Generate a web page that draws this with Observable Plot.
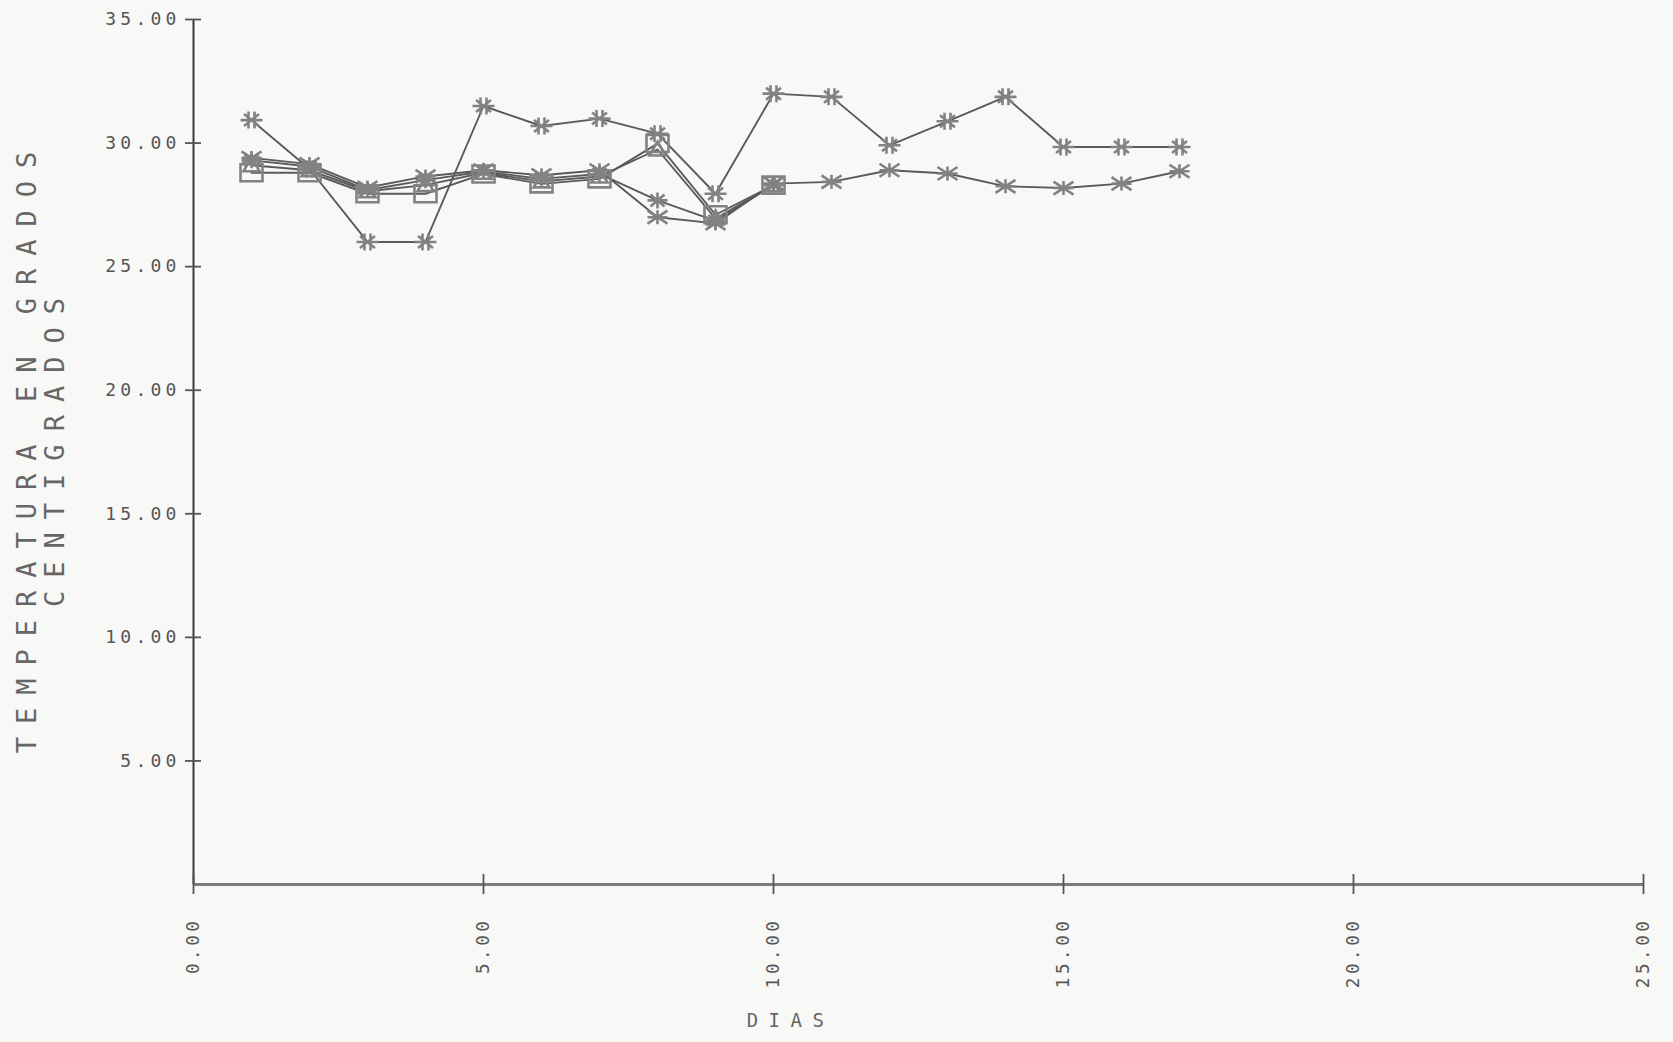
<!DOCTYPE html>
<html>
<head>
<meta charset="utf-8">
<script src="https://cdn.jsdelivr.net/npm/d3@7"></script>
<script src="https://cdn.jsdelivr.net/npm/@observablehq/plot@0.6"></script>
<style>
  html, body { margin: 0; padding: 0; background: #f8f8f6; }
  #chart svg { display: block; }
</style>
</head>
<body>
<div id="chart"></div>
<script>
// ---- data ----
const days17 = [1, 2, 3, 4, 5, 6, 7, 8, 9, 10, 11, 12, 13, 14, 15, 16, 17];
const days10 = [1, 2, 3, 4, 5, 6, 7, 8, 9, 10];

const serieAlmohadilla = [30.93, 28.95, 26.0, 26.0, 31.5, 30.69, 30.99, 30.38, 27.95, 32.0, 31.87, 29.91, 30.88, 31.87, 29.84, 29.84, 29.84];
const serieAspa        = [29.4, 29.15, 28.2, 28.65, 28.9, 28.7, 28.9, 27.0, 26.75, 28.36, 28.43, 28.9, 28.77, 28.25, 28.18, 28.36, 28.86];
const serieAsterisco   = [29.3, 29.05, 28.1, 28.5, 28.85, 28.55, 28.75, 27.68, 26.85, 28.3];
const serieTriangulo   = [29.1, 28.9, 28.05, 28.3, 28.8, 28.45, 28.65, 29.74, 26.95, 28.3];
const serieCuadrado    = [28.8, 28.8, 27.95, 27.95, 28.75, 28.35, 28.55, 29.98, 27.1, 28.3];

const xTicks = [0, 5, 10, 15, 20, 25];
const xTickLabels = ["0.00", "5.00", "10.00", "15.00", "20.00", "25.00"];
const yTicks = [5, 10, 15, 20, 25, 30, 35];
const yTickLabels = ["5.00", "10.00", "15.00", "20.00", "25.00", "30.00", "35.00"];

const yTitle1 = "TEMPERATURA EN GRADOS";
const yTitle2 = "CENTIGRADOS";
const xTitle = "DIAS";

// ---- plotter-like marker symbols ----
const symHash = {draw(c, size) {
  const r = Math.sqrt(size / Math.PI);
  c.moveTo(-1.1 * r, 0); c.lineTo(1.1 * r, 0);
  c.moveTo(-0.75 * r, -0.6 * r); c.lineTo(0.75 * r, 0.6 * r);
  c.moveTo(-0.75 * r, 0.6 * r); c.lineTo(0.75 * r, -0.6 * r);
  c.moveTo(-0.3 * r, -0.85 * r); c.lineTo(-0.3 * r, 0.85 * r);
  c.moveTo(0.3 * r, -0.85 * r); c.lineTo(0.3 * r, 0.85 * r);
}};
const symAspa = {draw(c, size) {
  const r = Math.sqrt(size / Math.PI);
  c.moveTo(-r, -0.65 * r); c.lineTo(r, 0.65 * r);
  c.moveTo(-r, 0.65 * r); c.lineTo(r, -0.65 * r);
  c.moveTo(-r, 0); c.lineTo(r, 0);
  c.moveTo(0, -0.7 * r); c.lineTo(0, 0.7 * r);
}};
const symAsterisco = {draw(c, size) {
  const r = Math.sqrt(size / Math.PI);
  c.moveTo(-r, 0); c.lineTo(r, 0);
  c.moveTo(0, -0.8 * r); c.lineTo(0, 0.8 * r);
  c.moveTo(-0.7 * r, -0.6 * r); c.lineTo(0.7 * r, 0.6 * r);
  c.moveTo(-0.7 * r, 0.6 * r); c.lineTo(0.7 * r, -0.6 * r);
}};
const symCuadrado = {draw(c, size) {
  const r = Math.sqrt(size / Math.PI);
  const w = 1.1 * r, h = 0.85 * r;
  c.moveTo(-w, -h); c.lineTo(w, -h); c.lineTo(w, h); c.lineTo(-w, h); c.closePath();
}};
const symTriangulo = {draw(c, size) {
  const r = Math.sqrt(size / Math.PI);
  c.moveTo(0, -0.8 * r); c.lineTo(0.8 * r, 0.6 * r); c.lineTo(-0.8 * r, 0.6 * r); c.closePath();
}};

// ---- long table built from the arrays ----
const series = [
  {name: "almohadilla", days: days17, values: serieAlmohadilla, symbol: symHash},
  {name: "aspa", days: days17, values: serieAspa, symbol: symAspa},
  {name: "asterisco", days: days10, values: serieAsterisco, symbol: symAsterisco},
  {name: "triangulo", days: days10, values: serieTriangulo, symbol: symTriangulo},
  {name: "cuadrado", days: days10, values: serieCuadrado, symbol: symCuadrado}
];
const rows = series.flatMap(s => s.values.map((v, i) => ({serie: s.name, dia: s.days[i], temp: v})));

const lineColor = "#5a5a5a";
const markColor = "#828282";

const marks = [
  // axes
  Plot.ruleX([0], {y1: 0, y2: 35, stroke: "#3a3a3a", strokeWidth: 2}),
  Plot.ruleY([0], {x1: 0, x2: 25, stroke: "#7a7a7a", strokeWidth: 3}),
  Plot.ruleY(yTicks, {y: d => d, x1: 0, x2: 0, insetLeft: -8, insetRight: -8, stroke: "#555", strokeWidth: 1.8}),
  Plot.ruleX(xTicks, {x: d => d, y1: 0, y2: 0, insetTop: -10, insetBottom: -10, stroke: "#555", strokeWidth: 1.8}),
  Plot.text(yTicks, {x: 0, y: d => d, text: (d, i) => yTickLabels[i], textAnchor: "end", dx: -13, fontSize: 18, fill: "#555"}),
  Plot.text(xTicks, {x: d => d, y: 0, text: (d, i) => xTickLabels[i], rotate: -90, textAnchor: "end", dy: 33, fontSize: 17.5, fill: "#555"}),
  Plot.text([yTitle1], {text: d => d, frameAnchor: "left", textAnchor: "middle", dx: -166, dy: -6, rotate: -90, fontSize: 27, fill: "#666"}),
  Plot.text([yTitle2], {text: d => d, frameAnchor: "left", textAnchor: "middle", dx: -138, dy: -6, rotate: -90, fontSize: 27, fill: "#666"}),
  Plot.text([xTitle], {text: d => d, frameAnchor: "bottom", textAnchor: "middle", dx: -128, dy: 142, fontSize: 19, fill: "#666"}),
  // data
  Plot.line(rows, {x: "dia", y: "temp", z: "serie", stroke: lineColor, strokeWidth: 1.9})
];
for (const s of series) {
  marks.push(Plot.dot(rows.filter(r => r.serie === s.name), {
    x: "dia", y: "temp", symbol: s.symbol, r: 10, fill: "none", stroke: markColor, strokeWidth: 2.6
  }));
}

const chart = Plot.plot({
  width: 1673,
  height: 1042,
  marginLeft: 193,
  marginRight: 30,
  marginTop: 19,
  marginBottom: 158,
  x: {domain: [0, 25], axis: null},
  y: {domain: [0, 35], axis: null},
  style: {background: "transparent", fontFamily: "'DejaVu Sans Mono', monospace", overflow: "visible"},
  marks
});
document.getElementById("chart").append(chart);

// plotter-like wide letter spacing, keyed by the font size of each text mark
const spacing = {"18": "4.2px", "17.5": "3.6px", "27": "13px", "19": "10.5px"};
d3.select(chart).selectAll("g[font-size]").each(function () {
  const fs = this.getAttribute("font-size");
  if (spacing[fs]) d3.select(this).selectAll("text").style("letter-spacing", spacing[fs]);
});
</script>
</body>
</html>
